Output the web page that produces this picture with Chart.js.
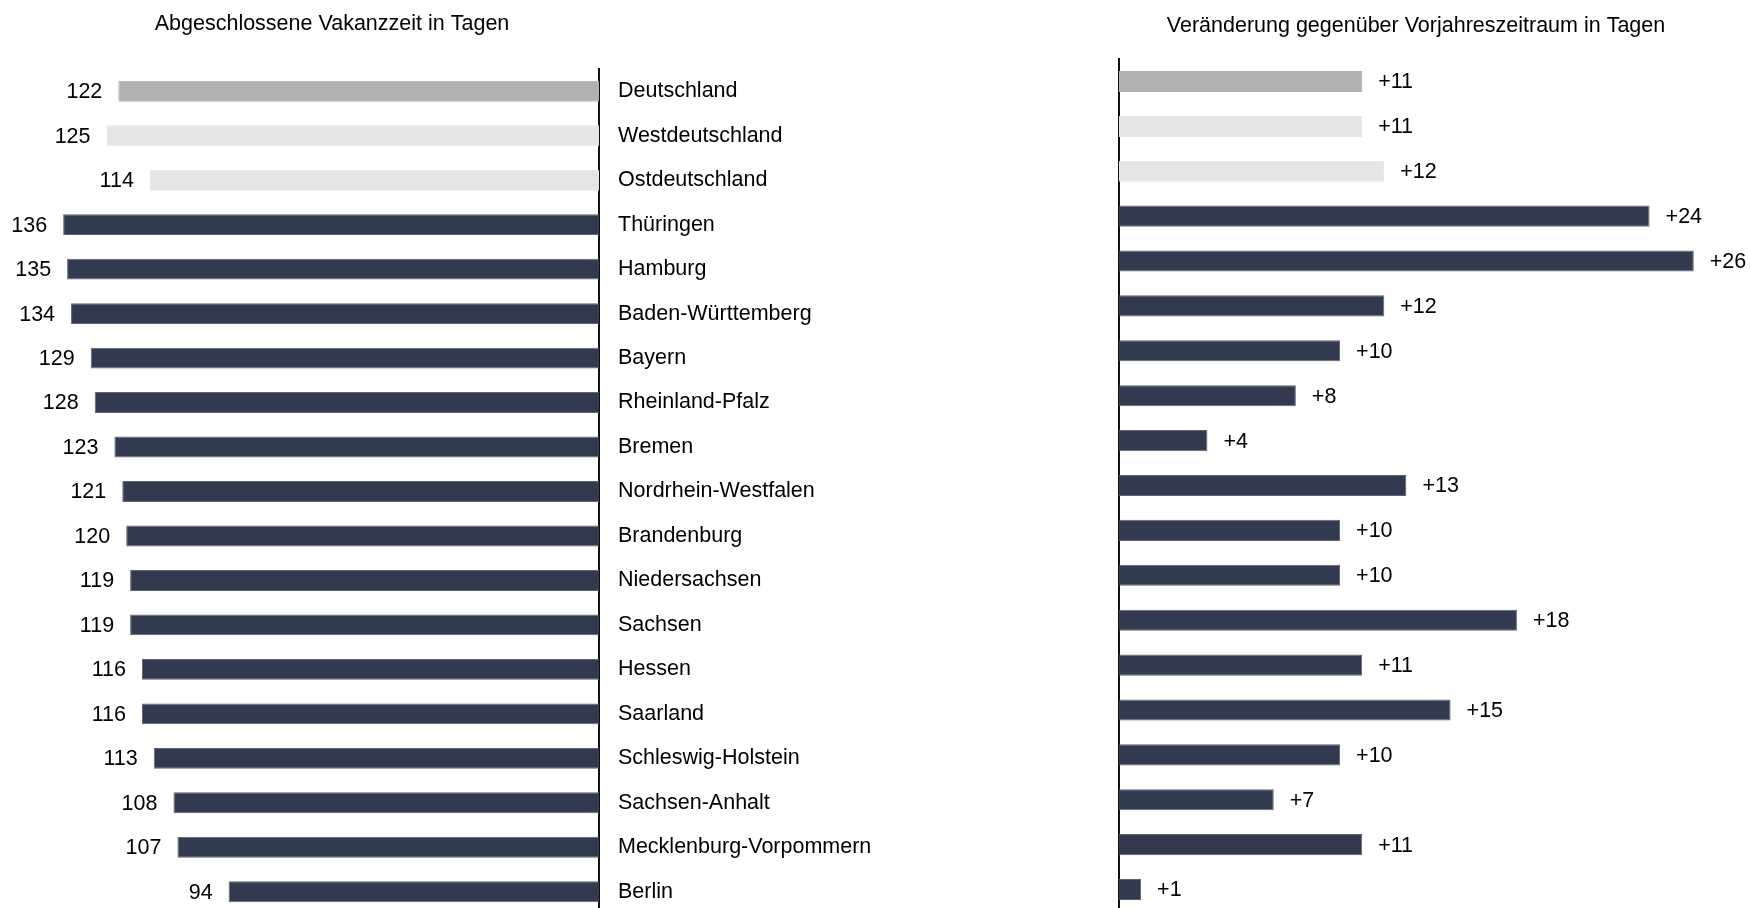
<!DOCTYPE html>
<html>
<head>
<meta charset="utf-8">
<script src="https://cdn.jsdelivr.net/npm/chart.js@4/dist/chart.umd.min.js"></script>
<style>
  html, body { margin: 0; padding: 0; background: #fff; overflow: hidden; width: 1750px; height: 908px; }
  #wrapL { position: absolute; left: 0; top: 0; width: 900px; height: 920px; }
  #wrapR { position: absolute; left: 1000px; top: 0; width: 750px; height: 920px; }
</style>
</head>
<body>
<div id="wrapL"><canvas id="left"></canvas></div>
<div id="wrapR"><canvas id="right"></canvas></div>
<script>
const categories = ["Deutschland", "Westdeutschland", "Ostdeutschland", "Thüringen", "Hamburg",
  "Baden-Württemberg", "Bayern", "Rheinland-Pfalz", "Bremen", "Nordrhein-Westfalen",
  "Brandenburg", "Niedersachsen", "Sachsen", "Hessen", "Saarland", "Schleswig-Holstein",
  "Sachsen-Anhalt", "Mecklenburg-Vorpommern", "Berlin"];
const vacancyDays = [122, 125, 114, 136, 135, 134, 129, 128, 123, 121, 120, 119, 119, 116, 116, 113, 108, 107, 94];
const changeDays = [11, 11, 12, 24, 26, 12, 10, 8, 4, 13, 10, 10, 18, 11, 15, 10, 7, 11, 1];
const titleLeft = "Abgeschlossene Vakanzzeit in Tagen";
const titleRight = "Veränderung gegenüber Vorjahreszeitraum in Tagen";

const FONT = '"Liberation Sans", Arial, Helvetica, sans-serif';
const FSIZE = 21.5;
const colors = categories.map((c, i) => i === 0 ? '#b1b1b1' : (i < 3 ? '#e5e5e5' : '#323a4f'));
const borders = categories.map((c, i) => i === 0 ? '#b1b1b1' : (i < 3 ? '#e5e5e5' : '#5d6475'));

function labelPlugin(side, fmt) {
  return {
    id: 'valLabels' + side,
    afterDatasetsDraw(chart) {
      const ctx = chart.ctx;
      const meta = chart.getDatasetMeta(0);
      const data = chart.data.datasets[0].data;
      ctx.save();
      ctx.font = FSIZE + 'px ' + FONT;
      ctx.fillStyle = '#000';
      ctx.textBaseline = 'middle';
      meta.data.forEach((bar, i) => {
        if (side === 'L') {
          ctx.textAlign = 'right';
          ctx.fillText(fmt(data[i]), bar.x - 16, bar.y + 1);
        } else {
          ctx.textAlign = 'left';
          ctx.fillText(fmt(data[i]), bar.x + 16, bar.y + 1);
        }
      });
      ctx.restore();
    }
  };
}
function titlePlugin(text, cx, cy) {
  return {
    id: 'customTitle',
    afterDraw(chart) {
      const ctx = chart.ctx;
      ctx.save();
      ctx.font = FSIZE + 'px ' + FONT;
      ctx.fillStyle = '#000';
      ctx.textAlign = 'center';
      ctx.textBaseline = 'middle';
      ctx.fillText(text, cx, cy);
      ctx.restore();
    }
  };
}

new Chart(document.getElementById('left'), {
  type: 'bar',
  data: {
    labels: categories,
    datasets: [{
      data: vacancyDays,
      backgroundColor: colors,
      borderColor: borders,
      borderWidth: 1,
      barPercentage: 0.47,
      categoryPercentage: 1.0
    }]
  },
  options: {
    indexAxis: 'y',
    responsive: true,
    maintainAspectRatio: false,
    animation: false,
    layout: { padding: { left: 8, right: 0, top: 69, bottom: 6 } },
    plugins: { legend: { display: false }, tooltip: { enabled: false }, title: { display: false } },
    scales: {
      x: { display: false, reverse: true, min: 0, max: 150 },
      y: {
        position: 'right',
        grid: { display: false, drawTicks: false },
        border: { display: true, color: '#111', width: 2 },
        ticks: { color: '#000', font: { family: FONT, size: FSIZE }, padding: 19, crossAlign: 'near' },
        afterFit(axis) { axis.width = 301; axis.paddingTop = 0; axis.paddingBottom = 0; }
      }
    }
  },
  plugins: [labelPlugin('L', v => String(v)), titlePlugin(titleLeft, 332, 24)]
});

new Chart(document.getElementById('right'), {
  type: 'bar',
  data: {
    labels: categories,
    datasets: [{
      data: changeDays,
      backgroundColor: colors,
      borderColor: borders,
      borderWidth: 1,
      barPercentage: 0.47,
      categoryPercentage: 1.0
    }]
  },
  options: {
    indexAxis: 'y',
    responsive: true,
    maintainAspectRatio: false,
    animation: false,
    layout: { padding: { left: 119, right: 12, top: 59, bottom: 8 } },
    plugins: { legend: { display: false }, tooltip: { enabled: false }, title: { display: false } },
    scales: {
      x: { display: false, min: 0, max: 28 },
      y: {
        position: 'left',
        grid: { display: false, drawTicks: false },
        border: { display: true, color: '#111', width: 2 },
        ticks: { display: false },
        afterFit(axis) { axis.width = 0; axis.paddingTop = 0; axis.paddingBottom = 0; }
      }
    }
  },
  plugins: [labelPlugin('R', v => '+' + v), titlePlugin(titleRight, 416, 26)]
});
</script>
</body>
</html>
